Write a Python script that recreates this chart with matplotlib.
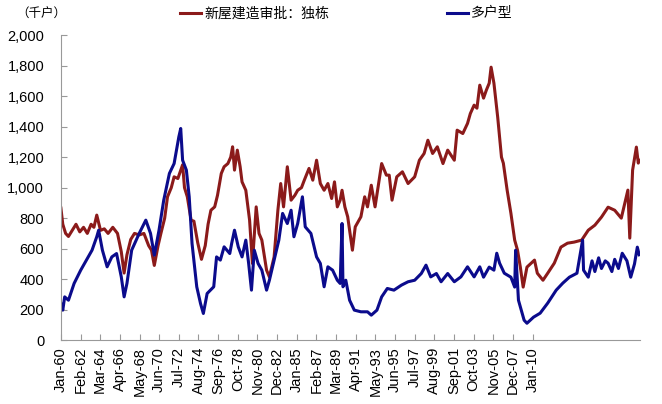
import matplotlib.pyplot as plt

plt.rcParams['font.family'] = ['Liberation Sans', 'Noto Sans CJK SC', 'DejaVu Sans']

# 新屋建造审批：独栋 (thousand units), decimal year
single_t = [1960.0, 1960.2, 1960.5, 1960.8, 1961.2, 1961.6, 1962.0, 1962.4, 1962.8, 1963.2,
            1963.5, 1963.8, 1964.2, 1964.6, 1965.0, 1965.5, 1966.0, 1966.4, 1966.7, 1967.0,
            1967.4, 1967.8, 1968.3, 1968.8, 1969.3, 1969.6, 1969.9, 1970.3, 1970.6, 1971.0,
            1971.3, 1971.7, 1972.0, 1972.4, 1972.9, 1973.1, 1973.4, 1973.8, 1974.1, 1974.5,
            1974.9, 1975.3, 1975.6, 1975.9, 1976.3, 1976.6, 1977.0, 1977.3, 1977.7, 1978.0,
            1978.2, 1978.4, 1978.7, 1979.0, 1979.2, 1979.6, 1980.0, 1980.3, 1980.7, 1981.0,
            1981.3, 1981.8, 1982.1, 1982.6, 1983.0, 1983.3, 1983.6, 1984.0, 1984.4, 1984.8,
            1985.1, 1985.5, 1985.8, 1986.3, 1986.7, 1987.1, 1987.5, 1987.9, 1988.3, 1988.7,
            1989.0, 1989.3, 1989.6, 1989.8, 1990.1, 1990.4, 1990.9, 1991.2, 1991.8, 1992.2,
            1992.5, 1992.9, 1993.3, 1994.0, 1994.5, 1994.8, 1995.1, 1995.6, 1996.2, 1996.8,
            1997.5, 1998.0, 1998.5, 1998.9, 1999.4, 1999.9, 2000.5, 2001.0, 2001.7, 2002.0,
            2002.6, 2003.1, 2003.4, 2003.8, 2004.1, 2004.4, 2004.8, 2005.1, 2005.4, 2005.6,
            2005.9, 2006.3, 2006.7, 2006.9, 2007.3, 2007.7, 2008.1, 2008.4, 2008.7, 2009.0,
            2009.4, 2010.2, 2010.5, 2011.1, 2011.6, 2012.3, 2013.0, 2013.7, 2014.4, 2015.2,
            2015.9, 2016.6, 2017.3, 2018.0, 2018.7, 2019.4, 2020.1, 2020.3, 2020.6, 2021.0,
            2021.2, 2021.3]
single_v = [866, 760, 700, 680, 720, 760, 710, 740, 700, 760,
            740, 820, 720, 730, 700, 740, 700, 580, 440, 560,
            660, 700, 690, 700, 620, 590, 490, 620, 700, 800,
            940, 1000, 1071, 1060, 1150, 1000, 940, 787, 780, 640,
            530, 620, 760, 852, 874, 950, 1093, 1137, 1158, 1200,
            1268, 1115, 1246, 1137, 1038, 983, 787, 503, 874, 700,
            656, 459, 415, 546, 852, 1027, 874, 1137, 918, 950,
            983, 1000, 1049, 1126, 1049, 1180, 1027, 983, 1027, 929,
            1038, 874, 918, 983, 874, 809, 590, 743, 809, 940,
            874, 1016, 874, 1158, 1082, 1082, 918, 1071, 1104, 1027,
            1071, 1180, 1224, 1311, 1224, 1268, 1158, 1246, 1180, 1377,
            1355, 1421, 1486, 1541, 1521, 1672, 1587, 1640, 1685, 1790,
            1685, 1462, 1200, 1160, 984, 832, 656, 590, 479, 348,
            479, 525, 439, 393, 439, 505, 610, 636, 643, 656,
            721, 754, 807, 872, 852, 800, 984, 669, 1115, 1266,
            1161, 1180]

# 多户型 (thousand units)
multi_t = [1960.0, 1960.2, 1960.4, 1960.8, 1961.4, 1962.1, 1962.7, 1963.3, 1963.8, 1964.0,
           1964.4, 1964.9, 1965.4, 1965.9, 1966.4, 1966.7, 1967.0, 1967.5, 1968.3, 1969.0,
           1969.5, 1969.9, 1970.4, 1970.9, 1971.5, 1972.0, 1972.5, 1972.7, 1972.9, 1973.3,
           1973.6, 1973.9, 1974.4, 1974.8, 1975.1, 1975.5, 1976.2, 1976.5, 1976.9, 1977.3,
           1977.9, 1978.1, 1978.4, 1978.8, 1979.2, 1979.6, 1979.9, 1980.2, 1980.5, 1980.9,
           1981.3, 1981.8, 1982.1, 1982.6, 1983.1, 1983.5, 1984.0, 1984.4, 1984.7, 1985.1,
           1985.6, 1985.9, 1986.5, 1987.1, 1987.5, 1987.9, 1988.3, 1988.8, 1989.3, 1989.6,
           1989.8, 1989.9, 1990.2, 1990.6, 1991.1, 1991.8, 1992.5, 1992.9, 1993.5, 1994.0,
           1994.6, 1995.3, 1996.1, 1996.8, 1997.5, 1998.2, 1998.7, 1999.2, 1999.8, 2000.3,
           2001.0, 2001.7, 2002.4, 2003.1, 2003.8, 2004.4, 2004.8, 2005.4, 2005.9, 2006.2,
           2006.5, 2007.0, 2007.7, 2008.1, 2008.2, 2008.5, 2009.1, 2009.4, 2010.1, 2010.8,
           2011.6, 2012.5, 2013.2, 2013.9, 2014.7, 2015.3, 2015.4, 2015.9, 2016.3, 2016.6,
           2017.0, 2017.3, 2017.7, 2018.0, 2018.4, 2018.7, 2019.1, 2019.5, 2020.0, 2020.4,
           2020.8, 2021.1, 2021.3]
multi_v = [240, 197, 284, 262, 372, 459, 525, 590, 678, 721,
           590, 481, 546, 568, 415, 284, 372, 590, 700, 787,
           700, 557, 721, 918, 1093, 1158, 1333, 1388, 1180, 1115,
           940, 634, 350, 240, 175, 306, 350, 546, 525, 612,
           568, 634, 721, 612, 546, 656, 503, 328, 590, 503,
           459, 328, 393, 525, 656, 831, 765, 852, 678, 765,
           940, 743, 700, 546, 503, 350, 481, 459, 393, 372,
           765, 350, 393, 262, 197, 186, 186, 164, 197, 284,
           339, 328, 361, 383, 393, 437, 492, 415, 437, 383,
           437, 383, 415, 481, 415, 481, 413, 479, 459, 570,
           505, 439, 413, 348, 590, 262, 131, 111, 151, 177,
           243, 328, 374, 413, 439, 656, 459, 413, 520, 450,
           540, 470, 520, 505, 450, 530, 470, 570, 520, 413,
           500, 610, 560]

tick_pos = [1960 + 25 * i / 12 for i in range(25)]
tick_labels = ['Jan-60', 'Feb-62', 'Mar-64', 'Apr-66', 'May-68', 'Jun-70', 'Jul-72',
               'Aug-74', 'Sep-76', 'Oct-78', 'Nov-80', 'Dec-82', 'Jan-85', 'Feb-87',
               'Mar-89', 'Apr-91', 'May-93', 'Jun-95', 'Jul-97', 'Aug-99', 'Sep-01',
               'Oct-03', 'Nov-05', 'Dec-07', 'Jan-10']

fig = plt.figure(figsize=(6.62, 4.04), dpi=100)
ax = fig.add_axes([0.092, 0.158, 0.875, 0.755])

ax.plot(single_t, single_v, color='#8b1a1a', lw=2.2, label='新屋建造审批：独栋')
ax.plot(multi_t, multi_v, color='#0b0b8c', lw=2.2, label='多户型')

ax.set_xlim(1960, 2021.4)
ax.set_ylim(0, 2000)
ax.set_yticks(range(0, 2001, 200))
ax.set_yticklabels([f'{v:,}' for v in range(0, 2001, 200)], fontsize=10.5)
ax.set_xticks(tick_pos)
ax.set_xticklabels(tick_labels, rotation=90, fontsize=10.5)
ax.tick_params(direction='in', length=4, color='#999999')
ax.tick_params(axis='y', pad=12)
ax.tick_params(axis='x', pad=5)

for s in ['top', 'right']:
    ax.spines[s].set_visible(False)
for s in ['left', 'bottom']:
    ax.spines[s].set_color('#999999')

fig.text(0.025, 0.955, '（千户）', fontsize=9, family=['Noto Sans CJK SC', 'DejaVu Sans'])
fig.legend(loc='upper center', bbox_to_anchor=(0.523, 1.015), ncol=2, frameon=False,
           prop={'family': ['Noto Sans CJK SC', 'DejaVu Sans'], 'size': 10},
           handlelength=1.5, handletextpad=0.2, columnspacing=8.5)

fig.savefig('out.png', dpi=100)
